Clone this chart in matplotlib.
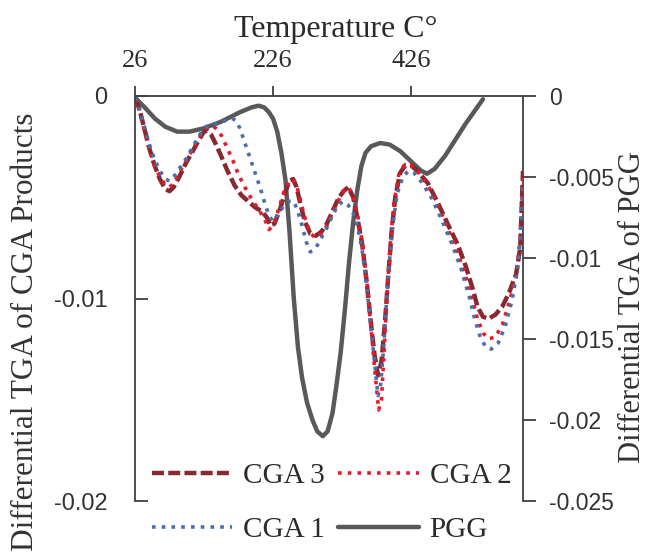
import matplotlib
matplotlib.use('Agg')
import matplotlib.pyplot as plt

# temperatures (C) and differential TGA values
temp_pgg = [26, 40, 55, 70, 87, 105, 125, 150, 178, 195, 205, 213, 220, 226, 232,
            238, 244, 250, 256, 262, 268, 275, 283, 290, 298, 305, 312, 318, 324,
            330, 336, 342, 348, 354, 360, 368, 381, 395, 410, 425, 440, 449, 460,
            475, 490, 505, 520, 530]
pgg = [-0.0001, -0.0007, -0.0014, -0.0019, -0.0022, -0.0022, -0.0020, -0.0016,
       -0.0010, -0.0007, -0.0006, -0.0007, -0.0010, -0.0014, -0.0022, -0.0035,
       -0.0052, -0.0085, -0.0125, -0.0155, -0.0174, -0.0189, -0.0200, -0.0207,
       -0.0210, -0.0207, -0.0196, -0.0178, -0.0158, -0.0132, -0.0103, -0.0078,
       -0.0058, -0.0043, -0.0035, -0.0031, -0.0029, -0.0030, -0.0034, -0.0040,
       -0.0046, -0.0048, -0.0045, -0.0037, -0.0027, -0.0017, -0.0008, -0.0002]

temp_cga3 = [26, 32, 38, 46, 54, 62, 70, 76, 82, 90, 100, 110, 118, 125, 130, 136,
             142, 150, 160, 170, 180, 190, 200, 210, 217, 222, 228, 236, 244, 250,
             255, 260, 266, 272, 280, 288, 296, 304, 312, 320, 328, 335, 342, 348,
             355, 362, 368, 373, 378, 383, 388, 393, 398, 403, 410, 418, 425, 435,
             450, 465, 480, 493, 505, 515, 522, 530, 538, 548, 558, 568, 578, 584,
             588]
cga3 = [-0.0001, -0.0006, -0.0014, -0.0025, -0.0034, -0.0041, -0.0046, -0.0047,
        -0.0045, -0.0040, -0.0033, -0.0027, -0.0022, -0.0018, -0.0017, -0.0019,
        -0.0023, -0.0029, -0.0037, -0.0044, -0.0049, -0.0052, -0.0055, -0.0057,
        -0.0060, -0.0064, -0.0063, -0.0056, -0.0047, -0.0042, -0.0041, -0.0045,
        -0.0054, -0.0062, -0.0068, -0.0069, -0.0067, -0.0063, -0.0057, -0.0051,
        -0.0047, -0.0045, -0.0050, -0.0060, -0.0073, -0.0093, -0.0113, -0.0128,
        -0.0138, -0.0131, -0.0112, -0.0088, -0.0066, -0.0050, -0.0038, -0.0034,
        -0.0034, -0.0037, -0.0043, -0.0053, -0.0064, -0.0073, -0.0084, -0.0095,
        -0.0104, -0.0109, -0.0110, -0.0108, -0.0104, -0.0097, -0.0088, -0.0075,
        -0.0037]

temp_cga2 = [26, 32, 38, 46, 54, 62, 70, 76, 82, 90, 100, 110, 118, 125, 132, 140,
             146, 152, 160, 168, 176, 185, 195, 205, 214, 220, 226, 234, 242, 250,
             255, 260, 266, 272, 280, 288, 296, 304, 312, 320, 328, 335, 342, 348,
             355, 362, 368, 374, 379, 383, 387, 391, 396, 401, 408, 416, 425, 435,
             450, 465, 480, 493, 505, 515, 522, 530, 538, 548, 558, 568, 578, 584,
             588]
cga2 = [-0.0001, -0.0007, -0.0015, -0.0025, -0.0034, -0.0040, -0.0044, -0.0045,
        -0.0043, -0.0038, -0.0032, -0.0026, -0.0021, -0.0017, -0.0015, -0.0015,
        -0.0017, -0.0020, -0.0026, -0.0032, -0.0039, -0.0045, -0.0051, -0.0056,
        -0.0061, -0.0066, -0.0064, -0.0056, -0.0047, -0.0042, -0.0041, -0.0044,
        -0.0052, -0.0060, -0.0068, -0.0070, -0.0068, -0.0064, -0.0058, -0.0052,
        -0.0047, -0.0045, -0.0049, -0.0058, -0.0072, -0.0092, -0.0115, -0.0138,
        -0.0155, -0.0150, -0.0125, -0.0098, -0.0072, -0.0053, -0.0039, -0.0034,
        -0.0034, -0.0037, -0.0044, -0.0054, -0.0066, -0.0077, -0.0089, -0.0101,
        -0.0110, -0.0117, -0.0120, -0.0119, -0.0113, -0.0102, -0.0089, -0.0070,
        -0.0040]

temp_cga1 = [26, 32, 38, 46, 54, 62, 70, 76, 82, 90, 100, 110, 118, 126, 134, 142,
             150, 158, 166, 172, 178, 184, 190, 196, 202, 208, 214, 220, 226, 232,
             240, 248, 256, 262, 268, 274, 280, 288, 296, 304, 312, 320, 327, 335,
             342, 348, 355, 362, 368, 374, 378, 382, 386, 390, 395, 400, 406, 414,
             422, 430, 440, 455, 470, 485, 498, 510, 518, 526, 534, 542, 552, 562,
             572, 580, 585, 588]
cga1 = [-0.0001, -0.0006, -0.0013, -0.0023, -0.0031, -0.0037, -0.0041, -0.0042,
        -0.0040, -0.0036, -0.0031, -0.0025, -0.0020, -0.0016, -0.0014, -0.0014,
        -0.0013, -0.0012, -0.0011, -0.0012, -0.0016, -0.0022, -0.0028, -0.0034,
        -0.0040, -0.0046, -0.0053, -0.0059, -0.0062, -0.0059, -0.0055, -0.0052,
        -0.0052, -0.0057, -0.0064, -0.0072, -0.0077, -0.0075, -0.0070, -0.0065,
        -0.0059, -0.0054, -0.0052, -0.0054, -0.0058, -0.0064, -0.0076, -0.0095,
        -0.0115, -0.0135, -0.0148, -0.0142, -0.0125, -0.0103, -0.0080, -0.0062,
        -0.0048, -0.0040, -0.0037, -0.0038, -0.0042, -0.0050, -0.0061, -0.0073,
        -0.0085, -0.0099, -0.0110, -0.0119, -0.0124, -0.0125, -0.0122, -0.0114,
        -0.0101, -0.0086, -0.0068, -0.0042]

x_ticks = [26, 226, 426]
left_ticks = [0, -0.01, -0.02]
left_labels = ['0', '-0.01', '-0.02']
right_ticks = [0, -0.005, -0.01, -0.015, -0.02, -0.025]
right_labels = ['0', '-0.005', '-0.01', '-0.015', '-0.02', '-0.025']

serif = 'Liberation Serif'
sans = 'Liberation Sans'
ink = '#2b2b2b'

fig = plt.figure(figsize=(6.56, 5.54), dpi=100)
ax = fig.add_axes([135 / 656, 1 - 501 / 554, 388 / 656, 405 / 554])
ax2 = ax.twinx()

# PGG on the right axis, drawn under the CGA curves
ax.set_zorder(ax2.get_zorder() + 1)
ax.patch.set_visible(False)

l_pgg, = ax2.plot(temp_pgg, pgg, color='#595959', lw=3.2, label='PGG',
                  solid_capstyle='round')
l3, = ax.plot(temp_cga3, cga3, color='#862a30', lw=3.2, ls=(0, (2.7, 0.95)),
              label='CGA 3')
l2, = ax.plot(temp_cga2, cga2, color='#e8192c', lw=2.6, ls=(0, (1, 1.7)),
              label='CGA 2')
l1, = ax.plot(temp_cga1, cga1, color='#4a6fa8', lw=2.6, ls=(0, (1, 1.7)),
              label='CGA 1')

ax.set_xlim(26, 588)
ax.set_ylim(-0.02, 0)
ax2.set_ylim(-0.025, 0)

ax.xaxis.tick_top()
ax.xaxis.set_label_position('top')
ax.set_xticks(x_ticks)
ax.set_xticklabels([str(t) for t in x_ticks], fontfamily=serif, fontsize=19,
                   color=ink)
ax.tick_params(axis='x', direction='out', length=7, width=1.3, pad=10,
               color='#404040')
ax.set_xlabel('Temperature C\u00b0', fontfamily=serif, fontsize=23, color=ink)
ax.xaxis.set_label_coords(0.518, 1.146)

ax.set_yticks(left_ticks)
ax.set_yticklabels(left_labels, fontfamily=sans, fontsize=17, color='#333333')
ax.tick_params(axis='y', direction='in', length=9, width=1.3, pad=20,
               color='#404040')
ax2.set_yticks(right_ticks)
ax2.set_yticklabels(right_labels, fontfamily=sans, fontsize=16.5,
                    color='#333333')
ax2.tick_params(axis='y', direction='out', length=9, width=1.3, pad=10,
                color='#404040')

for a in (ax, ax2):
    a.spines['bottom'].set_visible(False)
    for s in ('top', 'left', 'right'):
        a.spines[s].set_linewidth(1.3)
        a.spines[s].set_color('#404040')
ax.spines['right'].set_visible(False)
ax2.spines['left'].set_visible(False)
ax2.spines['top'].set_visible(False)

ax.set_ylabel('Differential TGA of CGA Products', fontfamily=serif,
              fontsize=22.5, color='#333333')
ax.yaxis.set_label_coords(-0.245, 0.417)
ax2.set_ylabel('Differential TGA of PGG', fontfamily=serif, fontsize=22,
               color='#333333')
ax2.yaxis.set_label_coords(1.245, 0.479)

leg = ax.legend(handles=[l3, l1, l2, l_pgg], ncol=2, loc='upper left',
                bbox_to_anchor=(0.044, 0.094), borderaxespad=0, frameon=False,
                prop={'family': serif, 'size': 21}, handlelength=2.75,
                handletextpad=0.38, columnspacing=0.45, labelspacing=0.95,
                borderpad=0)
for t in leg.get_texts():
    t.set_color(ink)
leg.set_zorder(10)

fig.savefig('out.png', dpi=100)
